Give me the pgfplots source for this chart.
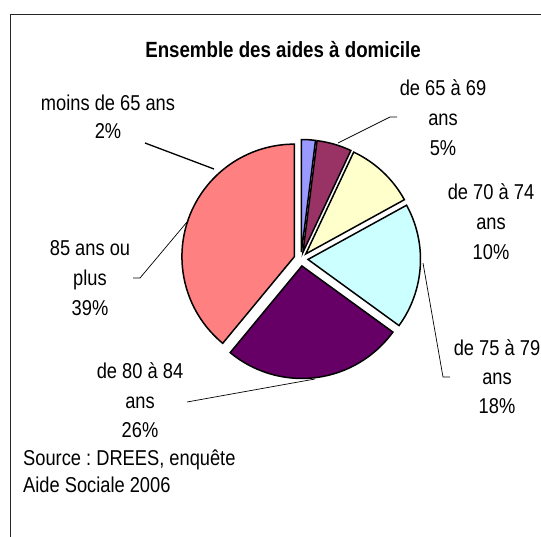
\documentclass[border=0pt]{standalone}
\usepackage{pgfplots}
\pgfplotsset{compat=1.18}
\usepackage{pgfplotstable}
\usepackage{fontspec}
\setmainfont{Liberation Sans}[FakeStretch=0.85]
\frenchspacing

\definecolor{sliceA}{RGB}{153,153,255}
\definecolor{sliceB}{RGB}{153,51,102}
\definecolor{sliceC}{RGB}{255,255,204}
\definecolor{sliceD}{RGB}{204,255,255}
\definecolor{sliceE}{RGB}{102,0,102}
\definecolor{sliceF}{RGB}{255,128,128}

% aides a domicile par age (%), clockwise from 12 o'clock
\pgfplotstableread{
pct colour
2  sliceA
5  sliceB
10 sliceC
18 sliceD
26 sliceE
39 sliceF
}\agedata

\newcommand\lab[3]{\node[anchor=base,inner sep=0pt,font=\fontsize{21.5}{24}\selectfont] at (axis cs:#1,#2) {#3};}

\begin{document}
\begin{tikzpicture}
\begin{axis}[
  scale only axis, width=541pt, height=536pt,
  xmin=0, xmax=541, ymin=0, ymax=536, y dir=reverse,
  hide axis, clip=false]

% frame
\draw[line width=1pt,black!85] (axis cs:10,545) -- (axis cs:10,14) -- (axis cs:550,14);

% slices, each pulled 7pt out along its middle
\pgfplotstablegetrowsof{\agedata}
\pgfmathtruncatemacro\nslices{\pgfplotsretval-1}
\def\cum{0}
\pgfplotsforeachungrouped \i in {0,...,\nslices}{%
  \pgfplotstablegetelem{\i}{pct}\of\agedata \let\pv\pgfplotsretval
  \pgfplotstablegetelem{\i}{colour}\of\agedata \let\col\pgfplotsretval
  \pgfmathsetmacro\angA{90-3.6*\cum}
  \pgfmathsetmacro\angB{90-3.6*(\cum+\pv)}
  \pgfmathsetmacro\angM{(\angA+\angB)/2}
  \edef\cmd{\noexpand\draw[fill=\col,line width=1.5pt]
    (axis cs:301,259) ++(\angM:7pt) -- ++(\angA:112.5pt)
    arc[start angle=\angA,end angle=\angB,radius=112.5pt] -- cycle;}
  \cmd
  \pgfmathsetmacro\cum{\cum+\pv}
}

% leader lines
\draw[line width=1.3pt] (axis cs:145,143) -- (axis cs:214,169);
\draw[line width=0.7pt] (axis cs:397,117) -- (axis cs:390,117) -- (axis cs:338,143);
\draw[line width=0.7pt] (axis cs:450,377) -- (axis cs:443,377) -- (axis cs:423,263);
\draw[line width=0.7pt] (axis cs:187,402) -- (axis cs:315,379);
\draw[line width=0.7pt] (axis cs:133,278) -- (axis cs:140,278) -- (axis cs:187,222);

% title
\node[anchor=base,inner sep=0pt,font=\bfseries\fontsize{22}{24}\selectfont] at (axis cs:283,57) {Ensemble des aides à domicile};

% labels
\lab{108}{110}{moins de 65 ans}
\lab{108}{138}{2\%}
\lab{443}{95}{de 65 à 69}
\lab{443}{125}{ans}
\lab{443}{155}{5\%}
\lab{491}{199}{de 70 à 74}
\lab{491}{229}{ans}
\lab{491}{259}{10\%}
\lab{497}{355}{de 75 à 79}
\lab{497}{384}{ans}
\lab{497}{413}{18\%}
\lab{140}{378}{de 80 à 84}
\lab{140}{408}{ans}
\lab{140}{437}{26\%}
\lab{90}{255}{85 ans ou}
\lab{90}{285}{plus}
\lab{90}{315}{39\%}

% source
\node[anchor=base west,inner sep=0pt,font=\fontsize{21.5}{24}\selectfont] at (axis cs:23,465) {Source : DREES, enquête};
\node[anchor=base west,inner sep=0pt,font=\fontsize{21.5}{24}\selectfont] at (axis cs:23,492) {Aide Sociale 2006};
\end{axis}
\pgfresetboundingbox
\path (0,0) rectangle (541pt,536pt);
\end{tikzpicture}
\end{document}
